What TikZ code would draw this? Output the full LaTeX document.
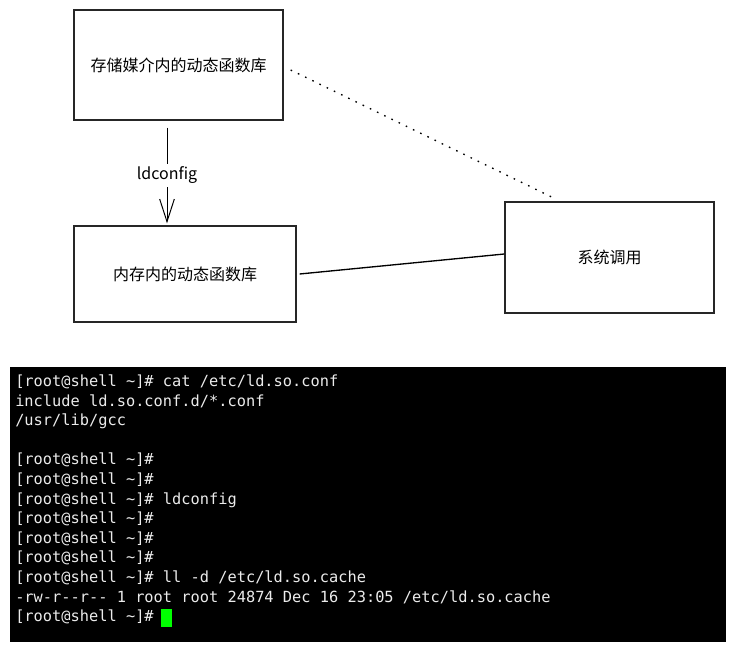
\documentclass[tikz,border=0pt]{standalone}
\usepackage{fontspec}
\setmainfont{Noto Sans CJK SC}
\newfontfamily\termfont{DejaVu Sans Mono}
\usepackage{tikz}
\usetikzlibrary{arrows.meta,calc}

\definecolor{cursorgreen}{RGB}{0,255,0}
\definecolor{termtext}{RGB}{235,235,235}

\tikzset{
  libbox/.style={draw=black!85,line width=1pt,inner sep=0pt,font=\fontsize{12}{14}\selectfont},
  termline/.style={anchor=base west,inner sep=0pt,text=termtext,font=\termfont\fontsize{11.5}{13}\selectfont},
}

\begin{document}
\begin{tikzpicture}[x=0.75pt,y=-0.75pt]
  \useasboundingbox (0,0) rectangle (736,652);

  % the three boxes
  \node[libbox,minimum width=156.75pt,minimum height=82.5pt] (media) at (178.5,65) {存储媒介内的动态函数库};
  \node[libbox,minimum width=166.5pt,minimum height=72pt] (mem) at (185,274) {内存内的动态函数库};
  \node[libbox,minimum width=156.75pt,minimum height=83.25pt] (sys) at (609.5,257.5) {系统调用};

  % ldconfig loads the libraries into memory
  \draw[line width=0.75pt,-{Straight Barb[length=17pt,width=11pt]}]
    ($(media.south)+(-11.5,7)$) -- ($(mem.north)+(-18,-2)$)
    node[midway,fill=white,inner sep=2pt,font=\fontsize{12}{14}\selectfont] (cfg) {ldconfig};

  % links to the system call
  \draw[line width=1pt,dash pattern=on 1.2pt off 4.8pt] ($(media.east)+(7,5)$) -- ($(sys.north west)+(48,-4)$);
  \draw[line width=1pt] ($(mem.east)+(3,0)$) -- ($(sys.west)+(0,-3.5)$);

  % terminal
  \fill[black] (10,367) rectangle (726,642);
  \node[termline] (t1)  at (15,386.5) {[root@shell \textasciitilde]\# cat /etc/ld.so.conf};
  \node[termline] (t2)  at (15,406.1) {include ld.so.conf.d/*.conf};
  \node[termline] (t3)  at (15,425.7) {/usr/lib/gcc};
  \node[termline] (t5)  at (15,464.9) {[root@shell \textasciitilde]\#};
  \node[termline] (t6)  at (15,484.5) {[root@shell \textasciitilde]\#};
  \node[termline] (t7)  at (15,504.1) {[root@shell \textasciitilde]\# ldconfig};
  \node[termline] (t8)  at (15,523.7) {[root@shell \textasciitilde]\#};
  \node[termline] (t9)  at (15,543.3) {[root@shell \textasciitilde]\#};
  \node[termline] (t10) at (15,562.9) {[root@shell \textasciitilde]\#};
  \node[termline] (t11) at (15,582.5) {[root@shell \textasciitilde]\# ll -d /etc/ld.so.cache};
  \node[termline] (t12) at (15,602.1) {-rw-r-{}-r-{}- 1 root root 24874 Dec 16 23:05 /etc/ld.so.cache};
  \node[termline] (t13) at (15,621.7) {[root@shell \textasciitilde]\#};
  \fill[cursorgreen] (161,609) rectangle (172,627); % cursor
\end{tikzpicture}
\end{document}
